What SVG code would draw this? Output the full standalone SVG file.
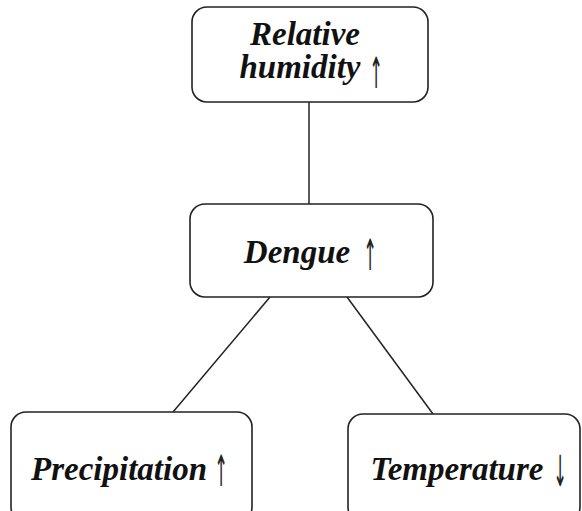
<svg xmlns="http://www.w3.org/2000/svg" width="582" height="511" viewBox="0 0 582 511">
<style>
.box{fill:#fff;stroke:#222;stroke-width:1.6}
.lbl{font-family:"Liberation Serif","Times New Roman",serif;font-weight:bold;font-style:italic;font-size:33px;fill:#111;text-anchor:middle}
.arr{font-family:"DejaVu Sans",sans-serif;font-size:43px;fill:#222;text-anchor:middle}
.edge{stroke:#222;stroke-width:1.5;fill:none}
</style>
<rect width="582" height="511" fill="#fff"/>
<g id="connectors">
<line class="edge" x1="309" y1="102" x2="309" y2="204"/>
<line class="edge" x1="270" y1="297" x2="173" y2="412"/>
<line class="edge" x1="347" y1="297" x2="433" y2="414"/>
</g>
<g id="humidity">
<rect class="box" x="192" y="7" width="236" height="95" rx="15"/>
<text class="lbl" x="305" y="45">Relative</text>
<text class="lbl" x="300" y="78">humidity</text>
<text class="arr" transform="translate(376,88) scale(0.38,1)">↑</text>
</g>
<g id="dengue">
<rect class="box" x="190" y="204" width="243" height="93" rx="15"/>
<text class="lbl" x="297" y="263">Dengue</text>
<text class="arr" transform="translate(370,270) scale(0.38,1)">↑</text>
</g>
<g id="precipitation">
<rect class="box" x="11" y="412" width="241" height="110" rx="15"/>
<text class="lbl" x="119" y="480">Precipitation</text>
<text class="arr" transform="translate(221,486) scale(0.38,1)">↑</text>
</g>
<g id="temperature">
<rect class="box" x="348" y="414" width="232" height="108" rx="15"/>
<text class="lbl" x="457" y="480">Temperature</text>
<text class="arr" transform="translate(560,486) scale(0.38,1)">↓</text>
</g>
</svg>
